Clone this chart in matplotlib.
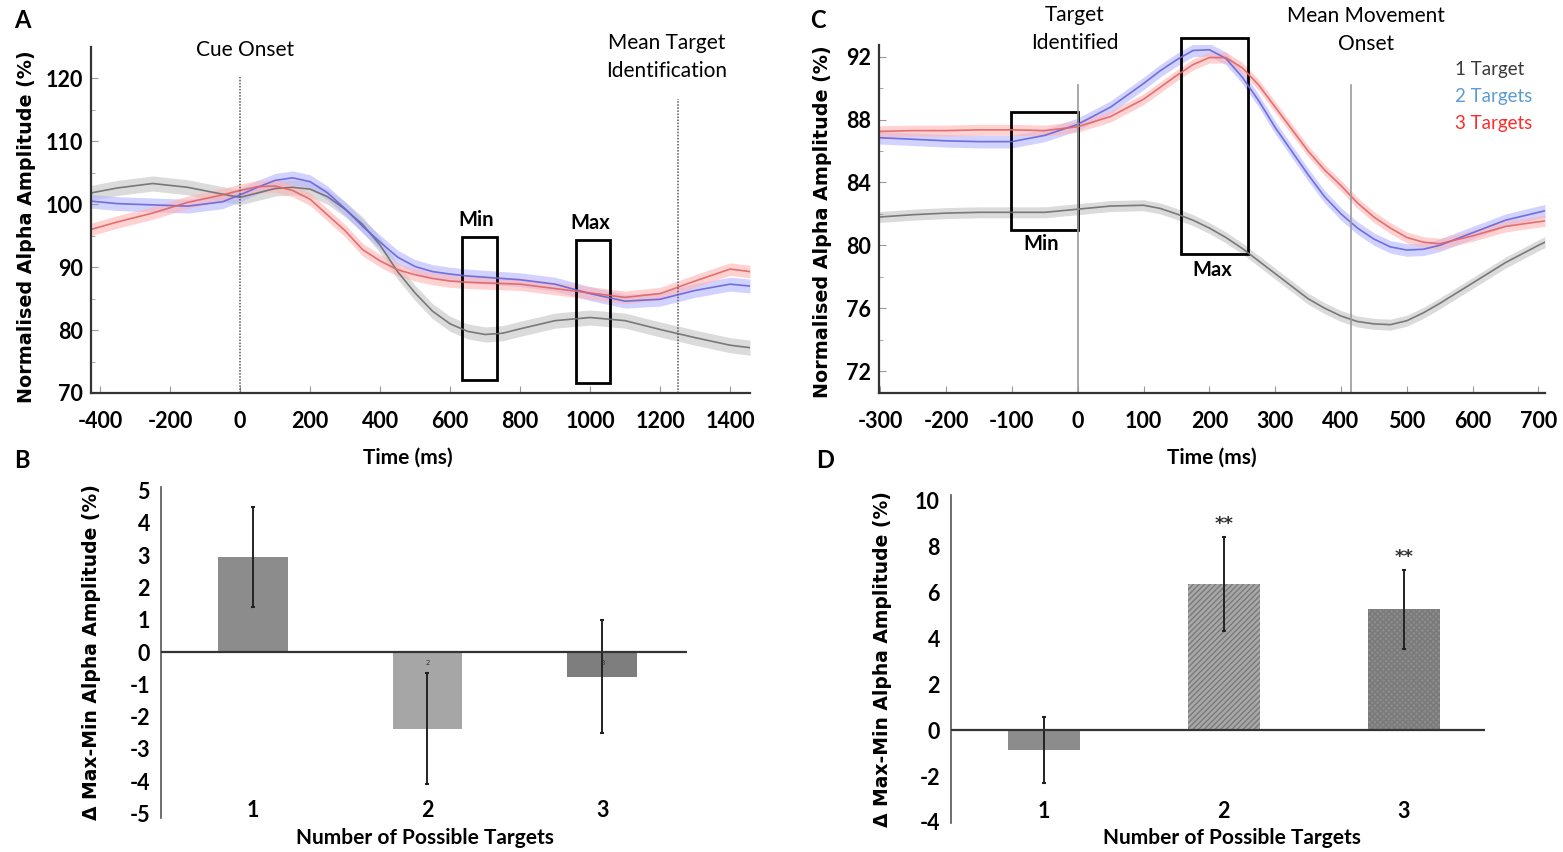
import numpy as np
import matplotlib
matplotlib.use("Agg")
import matplotlib.pyplot as plt
from matplotlib.patches import Rectangle

plt.rcParams["axes.unicode_minus"] = False

# ---------------- data ----------------
# Panel A (time locked to cue onset)
time_a = [-426, -350, -250, -150, -50, 0, 50, 100, 150, 200, 250, 300, 350, 400,
          450, 500, 550, 600, 650, 700, 750, 800, 900, 1000, 1100, 1200, 1300, 1400, 1457]
a_one = [101.8, 102.6, 103.3, 102.7, 101.6, 101.1, 101.8, 102.5, 102.7, 102.4, 101.2,
         99.2, 96.8, 93.5, 89.3, 85.9, 83.0, 81.0, 79.8, 79.3, 79.5, 80.2, 81.5, 82.0,
         81.5, 80.1, 78.8, 77.6, 77.2]
a_two = [100.5, 100.1, 99.9, 99.7, 100.4, 101.5, 102.7, 103.8, 104.2, 103.6, 101.8,
         99.3, 96.5, 94.0, 91.6, 90.1, 89.3, 88.9, 88.6, 88.4, 88.2, 88.0, 87.3, 85.8,
         84.6, 84.9, 86.3, 87.3, 87.0]
a_three = [96.0, 97.2, 98.6, 100.3, 101.5, 102.2, 102.8, 102.9, 102.2, 100.8, 98.3,
           95.8, 92.8, 91.0, 89.6, 88.8, 88.2, 87.8, 87.6, 87.5, 87.4, 87.3, 86.6, 85.9,
           85.2, 85.8, 87.8, 89.7, 89.3]
a_err = [1.2, 1.1, 1.0]

# Panel C (time locked to target identification)
time_c = [-302, -250, -200, -150, -100, -50, 0, 50, 100, 125, 150, 175, 200, 225, 250,
          275, 300, 325, 350, 375, 400, 425, 450, 475, 500, 525, 550, 600, 650, 700, 710]
c_one = [81.8, 81.95, 82.05, 82.1, 82.1, 82.1, 82.3, 82.5, 82.55, 82.35, 82.0, 81.6,
         81.1, 80.5, 79.8, 79.0, 78.2, 77.4, 76.6, 76.0, 75.5, 75.15, 75.0, 74.95, 75.2,
         75.7, 76.3, 77.6, 78.9, 80.0, 80.2]
c_two = [86.85, 86.75, 86.65, 86.6, 86.6, 87.0, 87.7, 88.8, 90.3, 91.1, 91.8, 92.4,
         92.45, 91.9, 90.7, 89.2, 87.5, 86.0, 84.5, 83.1, 82.0, 81.1, 80.4, 79.9, 79.7,
         79.75, 80.0, 80.8, 81.6, 82.1, 82.2]
c_three = [87.25, 87.3, 87.3, 87.35, 87.35, 87.3, 87.55, 88.2, 89.3, 90.05, 90.8, 91.5,
           91.95, 91.95, 91.3, 90.2, 88.8, 87.4, 86.0, 84.8, 83.8, 82.7, 81.8, 81.1,
           80.5, 80.2, 80.1, 80.6, 81.2, 81.5, 81.55]
c_err = [0.35, 0.4, 0.35]

series_labels = ["1 Target", "2 Targets", "3 Targets"]

# Panel B / D bar data
categories = ["1", "2", "3"]
b_values = [2.93, -2.38, -0.76]
b_errors = [1.55, 1.72, 1.76]
d_values = [-0.87, 6.39, 5.27]
d_errors = [1.45, 2.05, 1.73]
d_sig = ["", "**", "**"]

# windows (ms) and box extents
a_min_win = [634, 734]
a_max_win = [960, 1057]
a_box_y = [72.1, 94.8]
a_box_y2 = [71.6, 94.3]
c_min_win = [-101, 0]
c_max_win = [157, 258]
c_min_y = [81.0, 88.47]
c_max_y = [79.45, 93.2]

# ---------------- styling ----------------
W, H = 1563, 852
fig = plt.figure(figsize=(W / 100, H / 100), dpi=100)

TICKFONT = "Lato"
LABFONT = "DejaVu Sans"

line_cols = ["#6e6e6e", "#6464dc", "#e06464"]
band_cols = ["#c4c4c4", "#b4b4ff", "#ffb4b4"]


def rect(l, t, r, b):
    return [l / W, 1 - b / H, (r - l) / W, (b - t) / H]


def style_line_axes(ax):
    for s in ["top", "right"]:
        ax.spines[s].set_visible(False)
    for s in ["left", "bottom"]:
        ax.spines[s].set_linewidth(1.6)
        ax.spines[s].set_color("#333333")
    ax.tick_params(axis="both", which="both", direction="in", colors="#999999",
                   labelcolor="black")
    ax.tick_params(axis="both", which="major", length=5)
    ax.tick_params(axis="y", which="minor", length=3)
    for lab in ax.get_xticklabels() + ax.get_yticklabels():
        lab.set_fontfamily(TICKFONT)
        lab.set_fontweight("bold")
        lab.set_fontsize(15.5)


# ---------------- Panel A ----------------
axA = fig.add_axes(rect(91, 47, 750, 393))
for ys, col, bcol, e in zip([a_one, a_two, a_three], line_cols, band_cols, a_err):
    y = np.array(ys)
    axA.fill_between(time_a, y - e, y + e, color=bcol, alpha=0.6, lw=0)
for ys, col in zip([a_one, a_two, a_three], line_cols):
    axA.plot(time_a, ys, color=col, lw=1.2, alpha=0.9)
axA.set_xlim(-426, 1457)
axA.set_ylim(70, 125)
axA.set_xticks(range(-400, 1401, 200))
axA.set_yticks([70, 80, 90, 100, 110, 120])
axA.set_yticks([75, 85, 95, 105, 115], minor=True)
axA.tick_params(axis="x", pad=13)
axA.tick_params(axis="y", pad=6)
style_line_axes(axA)
axA.plot([0, 0], [70, 120.3], ls=(0, (1, 1)), color="#555555", lw=1.1)
axA.plot([1250, 1250], [70, 116.8], ls=(0, (1, 1)), color="#555555", lw=1.1)
axA.add_patch(Rectangle((a_min_win[0], a_box_y[0]), a_min_win[1] - a_min_win[0],
                        a_box_y[1] - a_box_y[0], fill=False, ec="black", lw=2))
axA.add_patch(Rectangle((a_max_win[0], a_box_y2[0]), a_max_win[1] - a_max_win[0],
                        a_box_y2[1] - a_box_y2[0], fill=False, ec="black", lw=2))
fig.text(476 / W, 1 - 220 / H, "Min", ha="center", va="center", fontsize=14.5,
         fontweight="bold", family=TICKFONT)
fig.text(590 / W, 1 - 223 / H, "Max", ha="center", va="center", fontsize=14.5,
         fontweight="bold", family=TICKFONT)
fig.text(245 / W, 1 - 50 / H, "Cue Onset", ha="center", va="center", fontsize=15,
         family=TICKFONT)
fig.text(667 / W, 1 - 57 / H, "Mean Target\nIdentification", ha="center", va="center",
         fontsize=15, family=TICKFONT, linespacing=1.45)
fig.text(408 / W, 1 - 458 / H, "Time (ms)", ha="center", va="center", fontsize=15,
         fontweight="bold", family=TICKFONT)
fig.text(27 / W, 1 - 227 / H, "Normalised Alpha Amplitude (%)", rotation=90,
         ha="center", va="center", fontsize=13.8, fontweight="bold", family=LABFONT)

# ---------------- Panel C ----------------
axC = fig.add_axes(rect(879, 45, 1545, 393))
for ys, col, bcol, e in zip([c_one, c_two, c_three], line_cols, band_cols, c_err):
    y = np.array(ys)
    axC.fill_between(time_c, y - e, y + e, color=bcol, alpha=0.6, lw=0)
for ys, col in zip([c_one, c_two, c_three], line_cols):
    axC.plot(time_c, ys, color=col, lw=1.2, alpha=0.9)
axC.set_xlim(-302, 710)
axC.set_ylim(70.6, 92.75)
axC.set_xticks(range(-300, 701, 100))
axC.set_yticks([72, 76, 80, 84, 88, 92])
axC.set_yticks([74, 78, 82, 86, 90], minor=True)
axC.tick_params(axis="x", pad=13)
axC.tick_params(axis="y", pad=6)
style_line_axes(axC)
axC.plot([0, 0], [70.6, 90.2], color="#999999", lw=1.2)
axC.plot([415, 415], [70.6, 90.2], color="#999999", lw=1.2)
axC.add_patch(Rectangle((c_min_win[0], c_min_y[0]), c_min_win[1] - c_min_win[0],
                        c_min_y[1] - c_min_y[0], fill=False, ec="black", lw=2))
axC.add_patch(Rectangle((c_max_win[0], c_max_y[0]), c_max_win[1] - c_max_win[0],
                        c_max_y[1] - c_max_y[0], fill=False, ec="black", lw=2,
                        clip_on=False))
fig.text(1041 / W, 1 - 244 / H, "Min", ha="center", va="center", fontsize=14.5,
         fontweight="bold", family=TICKFONT)
fig.text(1212 / W, 1 - 270 / H, "Max", ha="center", va="center", fontsize=14.5,
         fontweight="bold", family=TICKFONT)
fig.text(1075 / W, 1 - 29 / H, "Target\nIdentified", ha="center", va="center",
         fontsize=15, family=TICKFONT, linespacing=1.45)
fig.text(1366 / W, 1 - 30 / H, "Mean Movement\nOnset", ha="center", va="center",
         fontsize=15, family=TICKFONT, linespacing=1.45)
fig.text(1212 / W, 1 - 458 / H, "Time (ms)", ha="center", va="center", fontsize=15,
         fontweight="bold", family=TICKFONT)
fig.text(823 / W, 1 - 222 / H, "Normalised Alpha Amplitude (%)", rotation=90,
         ha="center", va="center", fontsize=13.8, fontweight="bold", family=LABFONT)
leg_cols = ["#3a3a3a", "#5b9bd5", "#ff2a2a"]
for i, (lab, c) in enumerate(zip(series_labels, leg_cols)):
    fig.text(1455 / W, 1 - (70 + 26.5 * i) / H, lab, ha="left", va="center",
             fontsize=13.5, color=c, family=TICKFONT)


# ---------------- bar panels ----------------
def bar_panel(r, values, errors, ylim, yticks, xlim, colors, hatches, pad,
              ylab_x, xlab_xy, sig=None):
    ax = fig.add_axes(r)
    x = np.arange(len(categories))
    bars = ax.bar(x, values, width=0.4, color=colors, edgecolor="none", zorder=2)
    for b, h in zip(bars, hatches):
        if h:
            b.set_hatch(h)
            b.set_edgecolor("#7a7a7a")
            b.set_linewidth(0)
    ax.errorbar(x, values, yerr=errors, fmt="none", ecolor="#222222", elinewidth=1.4,
                capsize=1.5, capthick=1.5, zorder=3)
    ax.axhline(0, color="#333333", lw=1.6, zorder=4)
    ax.set_xlim(*xlim)
    ax.set_ylim(*ylim)
    ax.set_yticks(yticks)
    ax.set_xticks(x)
    ax.set_xticklabels(categories)
    for s in ["top", "right", "bottom"]:
        ax.spines[s].set_visible(False)
    ax.spines["left"].set_color("#555555")
    ax.spines["left"].set_linewidth(1.2)
    ax.tick_params(axis="x", length=0, pad=pad)
    ax.tick_params(axis="y", length=0, pad=8)
    for lab in ax.get_xticklabels() + ax.get_yticklabels():
        lab.set_fontfamily(TICKFONT)
        lab.set_fontweight("bold")
        lab.set_fontsize(15.5)
    if sig:
        for xi, v, e, s in zip(x, values, errors, sig):
            if s:
                ax.text(xi, v + e + 0.15, s, ha="center", va="bottom", fontsize=13,
                        fontweight="bold", color="#333333")
    fig.text(ylab_x / W, (r[1] + r[3] / 2), "\u0394 Max-Min Alpha Amplitude (%)",
             rotation=90, ha="center", va="center", fontsize=13.5, fontweight="bold",
             family=LABFONT)
    fig.text(xlab_xy[0] / W, 1 - xlab_xy[1] / H, "Number of Possible Targets",
             ha="center", va="center", fontsize=15, fontweight="bold", family=TICKFONT)
    return ax


axB = bar_panel(rect(161, 487, 687, 818), b_values, b_errors, (-5.14, 5.11),
                range(-5, 6), (-0.524, 2.484), ["#8c8c8c", "#a6a6a6", "#7e7e7e"],
                [None, None, None], -13, 92, (425, 838))
axB.text(1, -0.35, "2", ha="center", va="center", fontsize=5, color="#333333")
axB.text(2, -0.35, "3", ha="center", va="center", fontsize=5, color="#333333")

axD = bar_panel(rect(951, 495, 1485, 823), d_values, d_errors, (-4.05, 10.26),
                range(-4, 11, 2), (-0.515, 2.45), ["#8c8c8c", "#a8a8a8", "#8a8a8a"],
                [None, "//////", "xxxxxx"], -16, 882, (1232, 838), sig=d_sig)

# panel letters
for lab, (px, py) in zip("ABCD", [(22, 20), (22, 460), (818, 20), (825, 460)]):
    fig.text(px / W, 1 - py / H, lab, ha="center", va="center", fontsize=17,
             fontweight="bold", family=TICKFONT)

fig.savefig("out.png", dpi=100)
